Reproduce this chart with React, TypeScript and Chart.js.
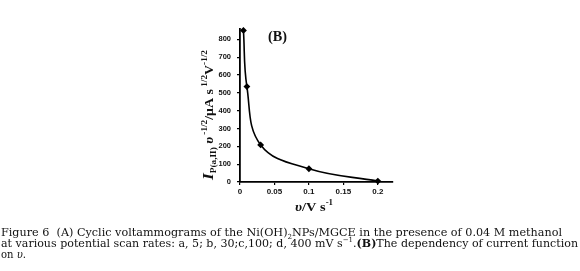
import React, { useEffect, useRef } from "react";
import { Chart, registerables } from "chart.js";

Chart.register(...registerables);

const scanRates = [0.005, 0.01, 0.03, 0.1, 0.2];
const currentFunction = [850, 535, 208, 74, 5];
const xTicks = [0, 0.05, 0.1, 0.15, 0.2];
const yTicks = [0, 100, 200, 300, 400, 500, 600, 700, 800];
const xTickLabels = ["0", "0.05", "0.1", "0.15", "0.2"];

type Seg = { t: string; font: string; dy?: number };

function drawRich(ctx: CanvasRenderingContext2D, segs: Seg[], x: number, y: number, width?: number) {
  ctx.save();
  let total = 0;
  for (const s of segs) {
    ctx.font = s.font;
    total += ctx.measureText(s.t).width;
  }
  ctx.translate(x, y);
  if (width) ctx.scale(width / total, 1);
  let cx = 0;
  ctx.textBaseline = "alphabetic";
  ctx.textAlign = "left";
  for (const s of segs) {
    ctx.font = s.font;
    ctx.fillText(s.t, cx, s.dy || 0);
    cx += ctx.measureText(s.t).width;
  }
  ctx.restore();
}

const SERIF = '"Liberation Serif", "Times New Roman", serif';
const CAP = '"DejaVu Serif", "Liberation Serif", serif';

const textPlugin = {
  id: "textPlugin",
  afterDraw(chart: any) {
    const ctx: CanvasRenderingContext2D = chart.ctx;
    ctx.save();
    ctx.fillStyle = "#111";
    // (B)
    drawRich(ctx, [{ t: "(B)", font: `bold 14px ${SERIF}` }], 268, 41, 19);
    // x title
    drawRich(
      ctx,
      [
        { t: "υ", font: `italic bold 13px ${SERIF}` },
        { t: "/V s", font: `bold 13px ${SERIF}` },
        { t: "-1", font: `bold 8px ${SERIF}`, dy: -6 },
      ],
      295,
      211,
      38
    );
    // y title rotated
    ctx.save();
    ctx.translate(213, 180);
    ctx.rotate(-Math.PI / 2);
    drawRich(
      ctx,
      [
        { t: "I", font: `italic bold 15px ${SERIF}` },
        { t: "P(a,II)", font: `bold 8px ${SERIF}`, dy: 3 },
        { t: " υ", font: `italic bold 12px ${SERIF}` },
        { t: " -1/2", font: `bold 8px ${SERIF}`, dy: -6 },
        { t: "/μA s", font: `bold 12px ${SERIF}` },
        { t: " 1/2", font: `bold 8px ${SERIF}`, dy: -6 },
        { t: "V", font: `bold 12px ${SERIF}` },
        { t: "-1/2", font: `bold 8px ${SERIF}`, dy: -6 },
      ],
      0,
      0,
      130
    );
    ctx.restore();
    // caption
    const f = `11px ${CAP}`;
    const fb = `bold 11px ${CAP}`;
    const fs = `7px ${CAP}`;
    drawRich(
      ctx,
      [
        { t: "Figure 6  (A) Cyclic voltammograms of the Ni(OH)", font: f },
        { t: "2", font: fs, dy: 3 },
        { t: "NPs/MGCE in the presence of 0.04 M methanol", font: f },
      ],
      1,
      236,
      561
    );
    drawRich(
      ctx,
      [
        { t: "at various potential scan rates: a, 5; b, 30;c,100; d, 400 mV s", font: f },
        { t: "−1", font: fs, dy: -5 },
        { t: ".", font: f },
        { t: "(B)", font: fb },
        { t: "The dependency of current function", font: f },
      ],
      1,
      247,
      577
    );
    drawRich(
      ctx,
      [
        { t: "on ", font: f },
        { t: "υ", font: `italic 11px ${CAP}` },
        { t: ".", font: f },
      ],
      1,
      258,
      25
    );
    ctx.restore();
  },
};

export default function App() {
  const ref = useRef<HTMLCanvasElement | null>(null);
  useEffect(() => {
    if (!ref.current) return;
    const yTickFont = { family: '"Liberation Sans", Arial, sans-serif', size: 7.5, weight: "bold" as const };
    const xTickFont = { family: '"Liberation Sans", Arial, sans-serif', size: 8, weight: "bold" as const };
    const chart = new Chart(ref.current, {
      type: "line",
      data: {
        labels: scanRates,
        datasets: [
          {
            data: scanRates.map((x, i) => ({ x, y: currentFunction[i] })),
            borderColor: "#000",
            backgroundColor: "#000",
            borderWidth: 1.6,
            pointRadius: 2.3,
            pointStyle: "rectRot",
            tension: 0.4,
            clip: false as any,
          },
        ],
      },
      options: {
        animation: false,
        responsive: false,
        events: [],
        layout: { padding: { left: 180, right: 187, top: 29, bottom: 69 } },
        plugins: { legend: { display: false }, tooltip: { enabled: false } },
        scales: {
          x: {
            type: "linear",
            min: 0,
            max: 0.222,
            afterBuildTicks: (s: any) => {
              s.ticks = xTicks.map((v) => ({ value: v }));
            },
            afterFit: (s: any) => {
              s.height = 20;
            },
            ticks: {
              color: "#111",
              font: xTickFont,
              padding: 2,
              maxRotation: 0,
              callback: (v: any) => {
                const i = xTicks.indexOf(Number(v));
                return i >= 0 ? xTickLabels[i] : "";
              },
            },
            grid: { drawOnChartArea: false, drawTicks: true, tickLength: 3, color: "#000", lineWidth: 1.2 },
            border: { display: true, color: "#000", width: 1.8 },
          },
          y: {
            type: "linear",
            min: 0,
            max: 858,
            afterBuildTicks: (s: any) => {
              s.ticks = yTicks.map((v) => ({ value: v }));
            },
            afterFit: (s: any) => {
              s.width = 60;
            },
            ticks: { color: "#111", font: yTickFont, padding: 6 },
            grid: { drawOnChartArea: false, drawTicks: true, tickLength: 3, color: "#000", lineWidth: 1.2 },
            border: { display: true, color: "#000", width: 1.8 },
          },
        },
      },
      plugins: [textPlugin],
    });
    return () => chart.destroy();
  }, []);
  return (
    <div style={{ position: "absolute", left: 0, top: 0, width: 580, height: 271, background: "#fff" }}>
      <canvas ref={ref} width={580} height={271} style={{ display: "block", width: 580, height: 271 }} />
    </div>
  );
}
